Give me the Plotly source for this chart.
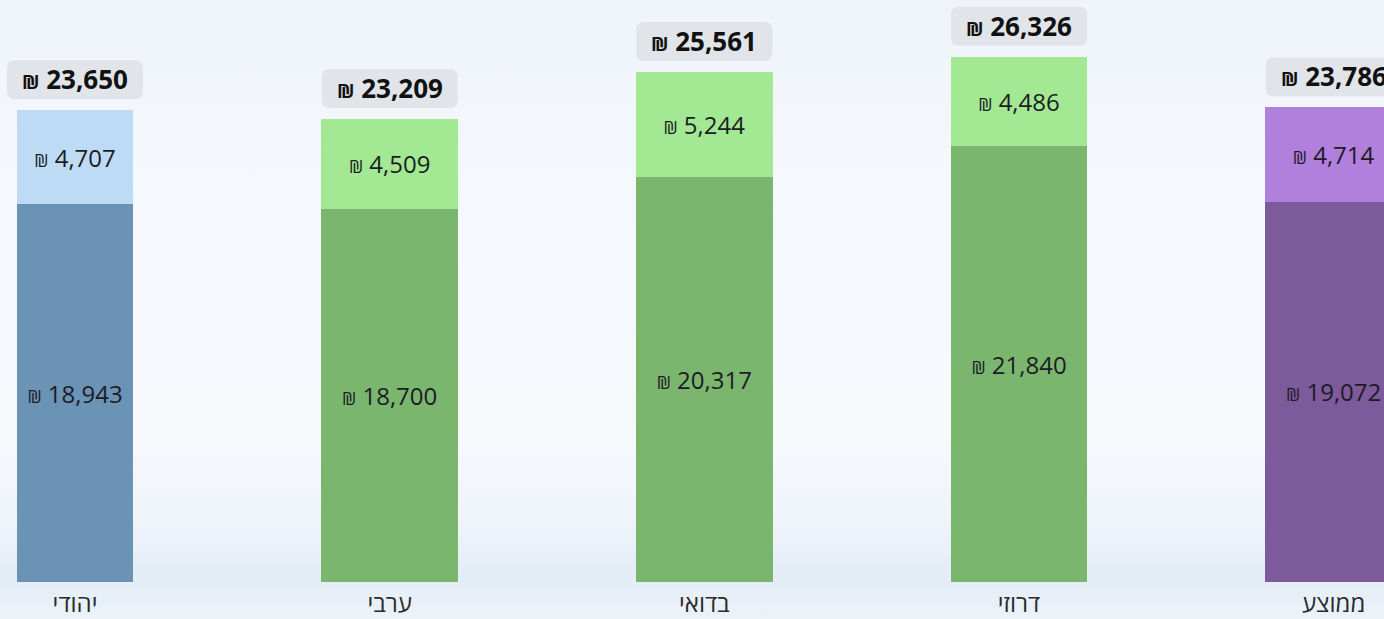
import base64
import plotly.graph_objects as go

# ---- data ----
categories = ["יהודי", "ערבי", "בדואי", "דרוזי", "ממוצע"]
base_values = [18943, 18700, 20317, 21840, 19072]
top_values = [4707, 4509, 5244, 4486, 4714]
totals = [b + t for b, t in zip(base_values, top_values)]

# ---- styles ----
base_colors = ["#6b93b6", "#7bb66f", "#7bb66f", "#7bb66f", "#7c5a9b"]
top_colors = ["#bddbf5", "#a3e892", "#a3e892", "#a3e892", "#b17fdc"]
bar_widths = [0.37, 0.435, 0.435, 0.435, 0.435]
FONT = "Segoe UI, Open Sans, DejaVu Sans, sans-serif"
SHEKEL_S = "<span style='font-size:18px'>₪</span>"
SHEKEL_B = "<span style='font-size:19px'>₪</span>"

xs = list(range(len(categories)))

fig = go.Figure()
for vals, cols in ((base_values, base_colors), (top_values, top_colors)):
    fig.add_trace(go.Bar(
        x=xs, y=vals, width=bar_widths,
        marker=dict(color=cols, line=dict(width=0)),
        texttemplate=SHEKEL_S + " %{y:,}", textposition="inside",
        insidetextanchor="middle", textangle=0, constraintext="none",
        insidetextfont=dict(size=24, color="#1c1c24", family=FONT),
        hoverinfo="skip",
    ))

# rounded grey boxes + bold totals above each bar
r = 8
for i, tot in enumerate(totals):
    hw = 68
    y0, y1 = 11, 50
    path = (f"M {-hw + r},{y0} L {hw - r},{y0} Q {hw},{y0} {hw},{y0 + r} "
            f"L {hw},{y1 - r} Q {hw},{y1} {hw - r},{y1} "
            f"L {-hw + r},{y1} Q {-hw},{y1} {-hw},{y1 - r} "
            f"L {-hw},{y0 + r} Q {-hw},{y0} {-hw + r},{y0} Z")
    fig.add_shape(type="path", path=path, xref="x", yref="y",
                  xsizemode="pixel", ysizemode="pixel",
                  xanchor=i, yanchor=tot,
                  fillcolor="#e1e4e9", line=dict(width=0), layer="above")
    fig.add_annotation(x=i, y=tot, yshift=31, text=f"<b>{SHEKEL_B} {tot:,}</b>",
                       showarrow=False, xanchor="center", yanchor="middle",
                       font=dict(size=26, color="#111111", family=FONT))

# background gradient
svg = """<svg xmlns='http://www.w3.org/2000/svg' width='100' height='100' preserveAspectRatio='none'>
<defs><linearGradient id='g' x1='0' y1='0' x2='0' y2='1'>
<stop offset='0' stop-color='#eff4fa'/>
<stop offset='0.3' stop-color='#f5f8fc'/>
<stop offset='0.7' stop-color='#f7fafd'/>
<stop offset='0.84' stop-color='#eff4fa'/>
<stop offset='0.93' stop-color='#e3edf7'/>
<stop offset='1' stop-color='#ecf2f8'/>
</linearGradient></defs>
<rect width='100' height='100' fill='url(#g)'/></svg>"""
uri = "data:image/svg+xml;base64," + base64.b64encode(svg.encode()).decode()

H, W, B = 619, 1384, 37
fig.update_layout(
    width=W, height=H,
    margin=dict(l=0, r=0, t=0, b=B, pad=0, autoexpand=False),
    barmode="stack", showlegend=False,
    paper_bgcolor="#f5f8fc", plot_bgcolor="rgba(0,0,0,0)",
    images=[dict(source=uri, xref="paper", yref="paper", x=0, y=1,
                 sizex=1, sizey=H / (H - B), sizing="stretch",
                 layer="below", xanchor="left", yanchor="top")],
    font=dict(family=FONT),
)
fig.update_xaxes(
    range=[-0.2384, 4.160], tickmode="array", tickvals=xs, ticktext=categories,
    showgrid=False, zeroline=False, showline=False, ticks="",
    ticklabelstandoff=5, automargin=False,
    tickfont=dict(size=24, color="#2a2a2a", family=FONT),
)
fig.update_yaxes(range=[0, 29173], visible=False, showgrid=False,
                 zeroline=False, automargin=False)

fig.write_html("out.html", config={"displayModeBar": False},
               post_script="document.body.style.margin='0';document.body.style.overflow='hidden';")
